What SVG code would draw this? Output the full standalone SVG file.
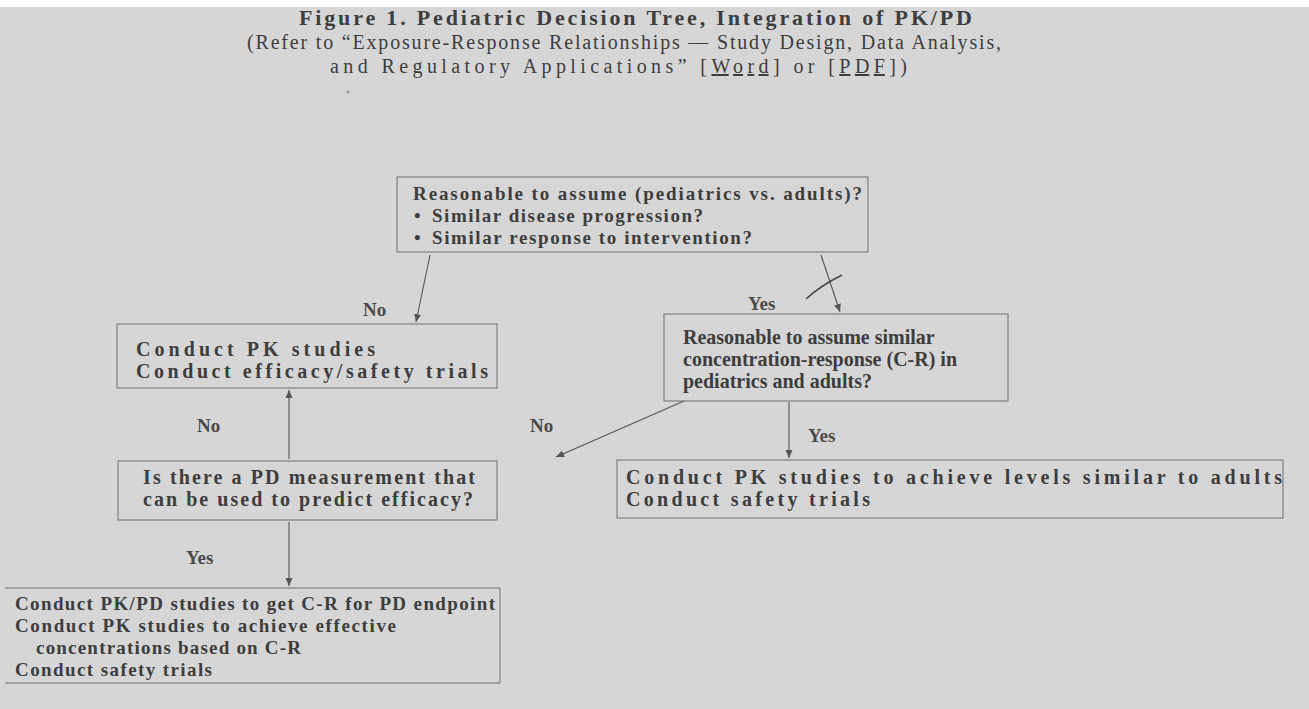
<svg xmlns="http://www.w3.org/2000/svg" width="1309" height="709" viewBox="0 0 1309 709">
<style>
text{font-family:"Liberation Serif","Times New Roman",serif;fill:#3d3d3d}
.t1{font-size:22px;font-weight:bold}
.t2{font-size:20px}
.bx{font-size:20px;font-weight:bold}
.tb{font-size:19px;font-weight:bold}
.sm{font-size:19px;font-weight:bold}
.lb{font-size:19px;font-weight:bold;fill:#4a4a4a}
.box{fill:none;stroke:#6e6e6e;stroke-width:1}
.ln{fill:none;stroke:#555;stroke-width:1.1}
.u{text-decoration:underline}
</style>
<defs>
<marker id="ah" markerWidth="9" markerHeight="9" refX="8" refY="4.5" orient="auto" markerUnits="userSpaceOnUse">
<path d="M0,1 L8,4.5 L0,8 Z" fill="#555"/>
</marker>
</defs>
<rect width="1309" height="709" fill="#d6d6d6"/>
<rect width="1309" height="7" fill="#ffffff"/>
<g id="title">
<text class="t1" x="299" y="25" textLength="673" lengthAdjust="spacing">Figure 1. Pediatric Decision Tree, Integration of PK/PD</text>
<text class="t2" x="247" y="49" textLength="754" lengthAdjust="spacing">(Refer to “Exposure-Response Relationships — Study Design, Data Analysis,</text>
<text class="t2" x="330" y="73" textLength="577" lengthAdjust="spacing">and Regulatory Applications” [<tspan class="u">Word</tspan>] or [<tspan class="u">PDF</tspan>])</text>
<circle cx="348" cy="92" r="1.5" fill="#9a9a9a"/>
</g>
<g id="connectors">
<line class="ln" x1="430" y1="255" x2="416" y2="322" marker-end="url(#ah)"/>
<line class="ln" x1="821" y1="255" x2="840" y2="312" marker-end="url(#ah)"/>
<path d="M806,299 Q820,286 842,275" fill="none" stroke="#444" stroke-width="1.4"/>
<line class="ln" x1="289" y1="459" x2="289" y2="390" marker-end="url(#ah)"/>
<line class="ln" x1="684" y1="401" x2="556" y2="457" marker-end="url(#ah)"/>
<line class="ln" x1="789" y1="402" x2="789" y2="458" marker-end="url(#ah)"/>
<line class="ln" x1="289" y1="522" x2="289" y2="586" marker-end="url(#ah)"/>
<text class="lb" x="363" y="316">No</text>
<text class="lb" x="748" y="310">Yes</text>
<text class="lb" x="197" y="432">No</text>
<text class="lb" x="530" y="432">No</text>
<text class="lb" x="808" y="442">Yes</text>
<text class="lb" x="186" y="564">Yes</text>
</g>
<g id="n-assume">
<rect class="box" x="397" y="177" width="471" height="75"/>
<text class="tb" x="413" y="200" textLength="449" lengthAdjust="spacing">Reasonable to assume (pediatrics vs. adults)?</text>
<text class="tb" x="414" y="222">•</text>
<text class="tb" x="432" y="222" textLength="271" lengthAdjust="spacing">Similar disease progression?</text>
<text class="tb" x="414" y="244">•</text>
<text class="tb" x="432" y="244" textLength="320" lengthAdjust="spacing">Similar response to intervention?</text>
</g>
<g id="n-pk-efficacy">
<rect class="box" x="117" y="324" width="380" height="64"/>
<text class="bx" x="136" y="356" textLength="239" lengthAdjust="spacing">Conduct PK studies</text>
<text class="bx" x="136" y="378" textLength="352" lengthAdjust="spacing">Conduct efficacy/safety trials</text>
</g>
<g id="n-cr">
<rect class="box" x="664" y="314" width="344" height="87"/>
<text class="bx" x="683" y="344">Reasonable to assume similar</text>
<text class="bx" x="683" y="366">concentration-response (C-R) in</text>
<text class="bx" x="683" y="388">pediatrics and adults?</text>
</g>
<g id="n-pd">
<rect class="box" x="118" y="461" width="379" height="59"/>
<text class="bx" x="143" y="484" textLength="332" lengthAdjust="spacing">Is there a PD measurement that</text>
<text class="bx" x="143" y="506" textLength="330" lengthAdjust="spacing">can be used to predict efficacy?</text>
</g>
<g id="n-pk-levels">
<rect class="box" x="617" y="460" width="666" height="58"/>
<text class="bx" x="626" y="484" textLength="656" lengthAdjust="spacing">Conduct PK studies to achieve levels similar to adults</text>
<text class="bx" x="626" y="506" textLength="244" lengthAdjust="spacing">Conduct safety trials</text>
</g>
<g id="n-pkpd">
<path class="box" d="M5,588 H500 V683 H5"/>
<text class="sm" x="15" y="610" textLength="480" lengthAdjust="spacing">Conduct PK/PD studies to get C-R for PD endpoint</text>
<text class="sm" x="15" y="632" textLength="381" lengthAdjust="spacing">Conduct PK studies to achieve effective</text>
<text class="sm" x="36" y="654" textLength="265" lengthAdjust="spacing">concentrations based on C-R</text>
<text class="sm" x="15" y="676" textLength="197" lengthAdjust="spacing">Conduct safety trials</text>
</g>
</svg>
